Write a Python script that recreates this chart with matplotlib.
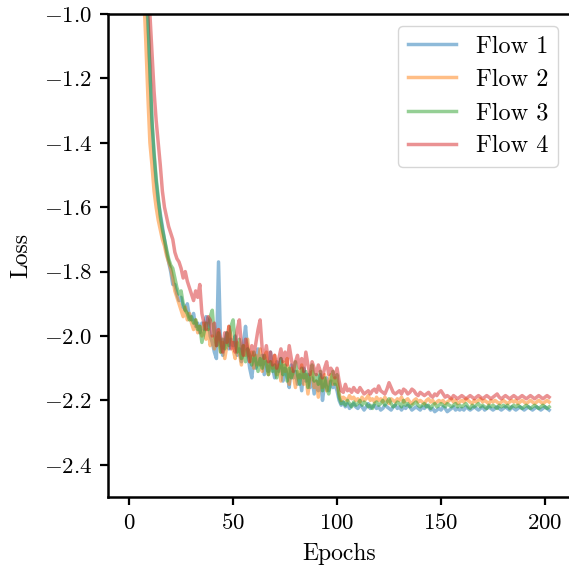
import numpy as np
import matplotlib
matplotlib.use('Agg')
import matplotlib.pyplot as plt

plt.rcParams['font.family'] = 'serif'
plt.rcParams['font.serif'] = ['cmr10']
plt.rcParams['mathtext.fontset'] = 'cm'
plt.rcParams['axes.formatter.use_mathtext'] = True

# validation loss per epoch
flow1 = [1.9, 0.9, 0.2, -0.2, -0.45, -0.62, -0.76, -0.88, -0.95, -1.02,
         -1.18, -1.34, -1.44, -1.52, -1.58, -1.62, -1.66, -1.70, -1.74, -1.77,
         -1.80, -1.84, -1.84, -1.87, -1.89, -1.88, -1.91, -1.92, -1.90, -1.94,
         -1.95, -1.93, -1.97, -1.96, -1.99, -1.96, -1.98, -1.94, -1.95, -2.00,
         -2.02, -2.05, -2.07, -1.77, -2.03, -2.06, -2.02, -1.99, -2.04, -2.01,
         -2.03, -2.00, -2.06, -2.04, -2.08, -2.02, -1.97, -2.05, -2.10, -2.13,
         -2.07, -2.10, -2.04, -2.09, -2.06, -2.12, -2.08, -2.11, -2.05, -2.10,
         -2.13, -2.08, -2.11, -2.07, -2.14, -2.10, -2.12, -2.16, -2.09, -2.13,
         -2.11, -2.15, -2.12, -2.17, -2.10, -2.14, -2.12, -2.16, -2.13, -2.18,
         -2.14, -2.17, -2.12, -2.20, -2.15, -2.13, -2.17, -2.14, -2.16, -2.15,
         -2.17, -2.20, -2.215, -2.205, -2.22, -2.21, -2.225, -2.215, -2.21, -2.22,
         -2.225, -2.215, -2.22, -2.23, -2.22, -2.21, -2.225, -2.22, -2.215, -2.225,
         -2.22, -2.23, -2.225, -2.215, -2.22, -2.225, -2.23, -2.22, -2.215, -2.225,
         -2.22, -2.23, -2.22, -2.225, -2.215, -2.22, -2.23, -2.225, -2.22, -2.225,
         -2.23, -2.22, -2.225, -2.215, -2.22, -2.23, -2.225, -2.235, -2.23, -2.225,
         -2.23, -2.22, -2.225, -2.235, -2.23, -2.225, -2.22, -2.23, -2.225, -2.23,
         -2.225, -2.23, -2.22, -2.225, -2.23, -2.225, -2.22, -2.225, -2.23, -2.225,
         -2.22, -2.23, -2.225, -2.22, -2.225, -2.23, -2.225, -2.22, -2.225, -2.23,
         -2.225, -2.22, -2.225, -2.23, -2.22, -2.225, -2.23, -2.225, -2.22, -2.225,
         -2.23, -2.225, -2.22, -2.225, -2.23, -2.225, -2.22, -2.225, -2.23, -2.225,
         -2.22, -2.225, -2.23]

flow2 = [1.7, 0.7, 0.05, -0.3, -0.55, -0.72, -0.85, -0.93, -1.08, -1.25,
         -1.40, -1.47, -1.55, -1.60, -1.64, -1.67, -1.70, -1.72, -1.75, -1.77,
         -1.79, -1.82, -1.86, -1.88, -1.90, -1.92, -1.94, -1.91, -1.95, -1.93,
         -1.96, -1.98, -1.95, -1.99, -1.97, -2.00, -1.96, -2.01, -1.98, -2.03,
         -2.00, -2.04, -2.01, -1.98, -2.05, -2.02, -2.07, -2.03, -1.97, -2.00,
         -2.04, -2.07, -2.02, -2.05, -2.09, -2.03, -2.06, -2.01, -2.08, -2.05,
         -2.10, -2.06, -2.09, -2.04, -2.11, -2.07, -2.05, -2.12, -2.08, -2.10,
         -2.06, -2.12, -2.09, -2.14, -2.08, -2.11, -2.07, -2.15, -2.10, -2.12,
         -2.16, -2.11, -2.13, -2.09, -2.15, -2.12, -2.18, -2.13, -2.11, -2.16,
         -2.14, -2.19, -2.13, -2.16, -2.12, -2.17, -2.14, -2.12, -2.15, -2.13,
         -2.15, -2.18, -2.20, -2.19, -2.195, -2.2, -2.185, -2.195, -2.19, -2.2,
         -2.195, -2.205, -2.19, -2.2, -2.195, -2.185, -2.2, -2.195, -2.205, -2.19,
         -2.2, -2.195, -2.205, -2.19, -2.2, -2.21, -2.195, -2.2, -2.205, -2.195,
         -2.2, -2.19, -2.205, -2.2, -2.195, -2.205, -2.21, -2.2, -2.195, -2.205,
         -2.2, -2.205, -2.21, -2.2, -2.195, -2.205, -2.2, -2.21, -2.205, -2.2,
         -2.205, -2.2, -2.21, -2.205, -2.2, -2.195, -2.205, -2.2, -2.21, -2.205,
         -2.2, -2.205, -2.195, -2.2, -2.205, -2.21, -2.2, -2.205, -2.2, -2.195,
         -2.205, -2.2, -2.205, -2.21, -2.2, -2.205, -2.2, -2.205, -2.21, -2.205,
         -2.2, -2.205, -2.21, -2.205, -2.2, -2.205, -2.2, -2.21, -2.205, -2.2,
         -2.205, -2.21, -2.205, -2.2, -2.205, -2.21, -2.205, -2.2, -2.205, -2.21,
         -2.205, -2.2, -2.205]

flow3 = [1.8, 0.8, 0.12, -0.25, -0.5, -0.67, -0.8, -0.88, -0.92, -1.0,
         -1.17, -1.33, -1.43, -1.51, -1.57, -1.63, -1.67, -1.70, -1.73, -1.76,
         -1.78, -1.79, -1.82, -1.85, -1.87, -1.86, -1.90, -1.92, -1.93, -1.95,
         -1.94, -1.96, -1.95, -1.98, -1.97, -2.02, -1.99, -1.96, -1.98, -1.94,
         -1.92, -2.00, -2.03, -1.99, -2.05, -2.01, -2.04, -1.99, -2.03, -1.97,
         -1.95, -2.02, -2.05, -2.01, -2.07, -2.03, -2.08, -2.04, -2.06, -2.09,
         -2.05, -2.08, -2.11, -2.07, -2.10, -2.06, -2.09, -2.12, -2.08, -2.11,
         -2.09, -2.13, -2.10, -2.07, -2.12, -2.09, -2.14, -2.10, -2.13, -2.11,
         -2.08, -2.12, -2.15, -2.10, -2.13, -2.11, -2.16, -2.12, -2.09, -2.14,
         -2.12, -2.15, -2.11, -2.17, -2.13, -2.16, -2.18, -2.14, -2.11, -2.15,
         -2.12, -2.19, -2.21, -2.205, -2.215, -2.2, -2.21, -2.22, -2.205, -2.215,
         -2.21, -2.2, -2.215, -2.205, -2.21, -2.22, -2.215, -2.225, -2.21, -2.205,
         -2.215, -2.21, -2.2, -2.215, -2.205, -2.195, -2.21, -2.22, -2.215, -2.205,
         -2.21, -2.22, -2.2, -2.215, -2.21, -2.22, -2.215, -2.21, -2.205, -2.215,
         -2.22, -2.215, -2.21, -2.22, -2.215, -2.225, -2.215, -2.21, -2.22, -2.215,
         -2.21, -2.215, -2.22, -2.21, -2.215, -2.22, -2.215, -2.21, -2.22, -2.215,
         -2.22, -2.215, -2.21, -2.22, -2.225, -2.215, -2.22, -2.215, -2.21, -2.22,
         -2.215, -2.22, -2.225, -2.215, -2.22, -2.215, -2.22, -2.225, -2.215, -2.22,
         -2.215, -2.22, -2.215, -2.225, -2.22, -2.215, -2.22, -2.215, -2.22, -2.225,
         -2.22, -2.215, -2.22, -2.225, -2.22, -2.215, -2.22, -2.225, -2.22, -2.215,
         -2.22, -2.225, -2.22]

flow4 = [2.2, 1.2, 0.45, 0.0, -0.3, -0.5, -0.66, -0.8, -0.86, -0.92,
         -1.0, -1.12, -1.24, -1.33, -1.40, -1.47, -1.55, -1.60, -1.63, -1.66,
         -1.68, -1.70, -1.74, -1.76, -1.77, -1.79, -1.82, -1.80, -1.83, -1.85,
         -1.87, -1.89, -1.86, -1.88, -1.84, -1.93, -1.96, -1.98, -1.94, -1.95,
         -2.00, -1.96, -2.03, -1.98, -2.01, -2.05, -1.99, -2.02, -1.97, -2.04,
         -2.02, -2.05, -1.98, -1.95, -2.03, -2.06, -2.01, -2.04, -2.08, -2.03,
         -2.06, -2.02, -1.98, -1.95, -2.04, -2.07, -2.03, -2.08, -2.05, -2.09,
         -2.06, -2.10, -2.07, -2.04, -2.08, -2.05, -2.09, -2.03, -2.07, -2.11,
         -2.08, -2.06, -2.10, -2.07, -2.11, -2.05, -2.09, -2.12, -2.08, -2.10,
         -2.12, -2.09, -2.11, -2.13, -2.10, -2.08, -2.12, -2.10, -2.11, -2.13,
         -2.10, -2.14, -2.17, -2.175, -2.15, -2.17, -2.165, -2.175, -2.16, -2.17,
         -2.175, -2.16, -2.17, -2.18, -2.175, -2.17, -2.18, -2.17, -2.165, -2.175,
         -2.155, -2.17, -2.175, -2.18, -2.165, -2.145, -2.16, -2.175, -2.18, -2.175,
         -2.17, -2.18, -2.165, -2.17, -2.18, -2.175, -2.165, -2.17, -2.18, -2.185,
         -2.175, -2.18, -2.185, -2.18, -2.175, -2.185, -2.19, -2.18, -2.185, -2.175,
         -2.17, -2.18, -2.19, -2.185, -2.19, -2.195, -2.185, -2.19, -2.195, -2.19,
         -2.185, -2.19, -2.195, -2.19, -2.185, -2.19, -2.195, -2.19, -2.185, -2.19,
         -2.195, -2.19, -2.185, -2.19, -2.195, -2.19, -2.185, -2.18, -2.19, -2.195,
         -2.19, -2.185, -2.19, -2.195, -2.19, -2.185, -2.19, -2.195, -2.19, -2.185,
         -2.19, -2.195, -2.19, -2.185, -2.19, -2.195, -2.19, -2.185, -2.19, -2.195,
         -2.19, -2.185, -2.19]

labels = ['Flow 1', 'Flow 2', 'Flow 3', 'Flow 4']

fig = plt.figure(figsize=(5.69, 5.69), dpi=100)
ax = fig.add_axes([0.19, 0.1265, 0.812, 0.849])

for y, lab in zip([flow1, flow2, flow3, flow4], labels):
    ax.plot(np.arange(len(y)), y, lw=2.5, alpha=0.5, label=lab)

ax.set_ylim(-2.5, -1.0)
ax.set_xticks([0, 50, 100, 150, 200])
ax.set_yticks([-2.4, -2.2, -2.0, -1.8, -1.6, -1.4, -1.2, -1.0])
ax.set_xlabel('Epochs', fontsize=17, labelpad=7)
ax.set_ylabel('Loss', fontsize=17, labelpad=8)
ax.tick_params(labelsize=16.5, width=1.6, length=5.5, pad=6)
for s in ax.spines.values():
    s.set_linewidth(1.8)
ax.legend(loc='upper right', fontsize=17.5, handlelength=2.0,
          labelspacing=0.45, handletextpad=0.8)

fig.savefig('out.png', dpi=100)
